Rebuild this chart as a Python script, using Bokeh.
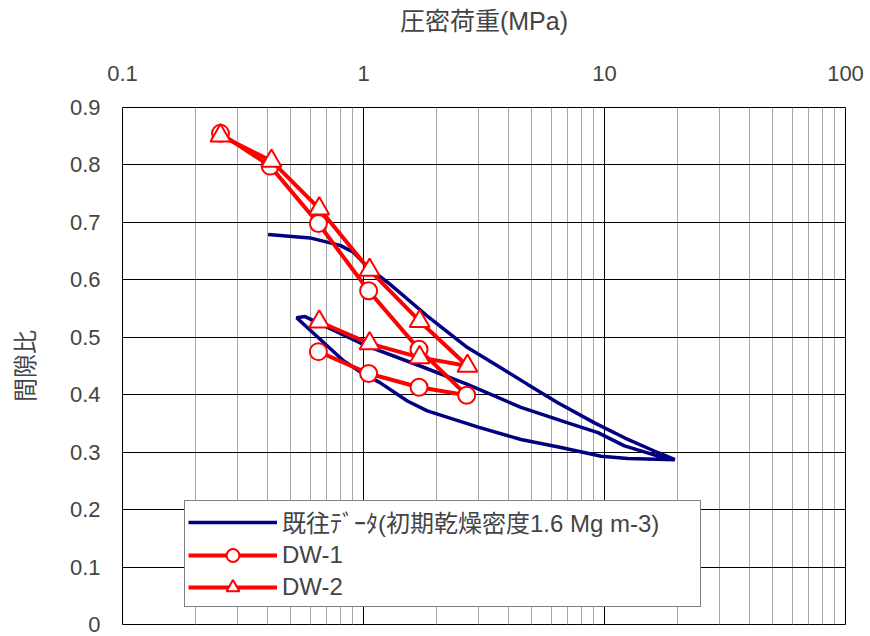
from bokeh.plotting import figure
from bokeh.models import (Range1d, FixedTicker, Legend, LegendItem, CustomJSTickFormatter)
from bokeh.embed import file_html
from bokeh.resources import INLINE

# ---- data ----
prev_x = [0.402, 0.600, 0.80, 0.908, 1.03, 1.29, 1.84, 2.70, 3.71, 4.80, 6.40, 9.09, 12.1, 16.7, 19.6,
          16.7, 12.1, 9.39, 7.04, 4.50, 2.70, 1.72, 1.03, 0.572, 0.528,
          0.826, 1.0, 1.17, 1.52, 1.84, 2.97, 4.50, 6.60, 9.69, 12.5, 19.6]
prev_y = [0.679, 0.673, 0.660, 0.648, 0.624, 0.592, 0.537, 0.482, 0.447, 0.418, 0.386, 0.351, 0.325, 0.299, 0.287,
          0.293, 0.311, 0.334, 0.351, 0.378, 0.418, 0.450, 0.485, 0.536, 0.534,
          0.459, 0.436, 0.421, 0.389, 0.372, 0.344, 0.322, 0.308, 0.293, 0.289, 0.287]

dw1_x = [0.255, 0.41, 0.65, 1.05, 1.70, 2.68, 1.70, 1.05, 0.65]
dw1_y = [0.855, 0.798, 0.698, 0.581, 0.479, 0.399, 0.413, 0.437, 0.475]

dw2_x = [0.255, 0.415, 0.655, 1.06, 1.71, 2.70, 1.71, 1.06, 0.655]
dw2_y = [0.851, 0.807, 0.724, 0.617, 0.528, 0.450, 0.465, 0.489, 0.527]

x_ticks = [0.1, 1, 10, 100]
x_minor = [m * d for d in [0.1, 1, 10] for m in range(2, 10)]
y_ticks = [0, 0.1, 0.2, 0.3, 0.4, 0.5, 0.6, 0.7, 0.8, 0.9]

series_names = ["既往ﾃﾞｰﾀ(初期乾燥密度1.6 Mg m-3)", "DW-1", "DW-2"]
x_title = "圧密荷重(MPa)"
y_title = "間隙比"

NUM_FONT = "Liberation Sans"
MIX_FONT = "Liberation Sans, Noto Sans CJK JP"
JP_FONT = "Noto Sans CJK JP"

p = figure(width=870, height=636, x_axis_type="log", x_axis_location="above",
           x_range=Range1d(0.1, 100), y_range=Range1d(0, 0.9),
           output_backend="svg", toolbar_location=None,
           min_border_left=122, min_border_top=107, min_border_right=25, min_border_bottom=12)

p.outline_line_color = "black"
p.outline_line_width = 1
p.background_fill_color = "white"
p.border_fill_color = "white"

# x axis (top)
xa = p.xaxis[0]
xa.ticker = FixedTicker(ticks=x_ticks, minor_ticks=x_minor)
xa.formatter = CustomJSTickFormatter(code="return tick.toString();")
xa.axis_line_color = None
xa.major_tick_line_color = None
xa.minor_tick_line_color = None
xa.major_tick_in = 0
xa.major_tick_out = 0
xa.minor_tick_in = 0
xa.minor_tick_out = 0
xa.major_label_text_font = NUM_FONT
xa.major_label_text_font_size = "22px"
xa.major_label_standoff = 27
xa.axis_label = x_title
xa.axis_label_text_font = MIX_FONT
xa.axis_label_text_font_size = "25px"
xa.axis_label_text_font_style = "normal"
xa.axis_label_standoff = 28

# y axis (left)
ya = p.yaxis[0]
ya.ticker = FixedTicker(ticks=y_ticks)
ya.formatter = CustomJSTickFormatter(code="return tick == 0 ? '0' : tick.toFixed(1);")
ya.axis_line_color = None
ya.major_tick_line_color = None
ya.minor_tick_line_color = None
ya.major_tick_in = 0
ya.major_tick_out = 0
ya.minor_tick_in = 0
ya.minor_tick_out = 0
ya.major_label_text_font = NUM_FONT
ya.major_label_text_font_size = "22px"
ya.major_label_standoff = 22
ya.axis_label = y_title
ya.axis_label_text_font = JP_FONT
ya.axis_label_text_font_size = "24px"
ya.axis_label_text_font_style = "normal"
ya.axis_label_standoff = 26

# grids
p.xgrid.ticker = xa.ticker
p.xgrid.grid_line_color = "black"
p.xgrid.minor_grid_line_color = "#a6a6a6"
p.ygrid.ticker = ya.ticker
p.ygrid.grid_line_color = "black"

# series
r_prev = p.line(prev_x, prev_y, line_color="#000080", line_width=3.5)
r1l = p.line(dw1_x, dw1_y, line_color="#ff0000", line_width=4)
r1m = p.scatter(dw1_x, dw1_y, marker="circle", size=17, fill_color="white",
                line_color="#ff0000", line_width=2)
r2l = p.line(dw2_x, dw2_y, line_color="#ff0000", line_width=4)
r2m = p.scatter(dw2_x, dw2_y, marker="triangle", size=20, fill_color="white",
                line_color="#ff0000", line_width=2)

legend = Legend(items=[
    LegendItem(label=series_names[0], renderers=[r_prev]),
    LegendItem(label=series_names[1], renderers=[r1l, r1m]),
    LegendItem(label=series_names[2], renderers=[r2l, r2m]),
], location=(62, 17))
legend.border_line_color = "black"
legend.border_line_width = 1
legend.background_fill_color = "white"
legend.background_fill_alpha = 1
legend.label_text_font = MIX_FONT
legend.label_text_font_size = "24px"
legend.glyph_width = 89
legend.glyph_height = 32
legend.label_height = 32
legend.label_width = 415
legend.spacing = 0
legend.padding = 3
legend.margin = 0
legend.label_standoff = 5
p.add_layout(legend)

open("out.html", "w").write(file_html(p, INLINE))
